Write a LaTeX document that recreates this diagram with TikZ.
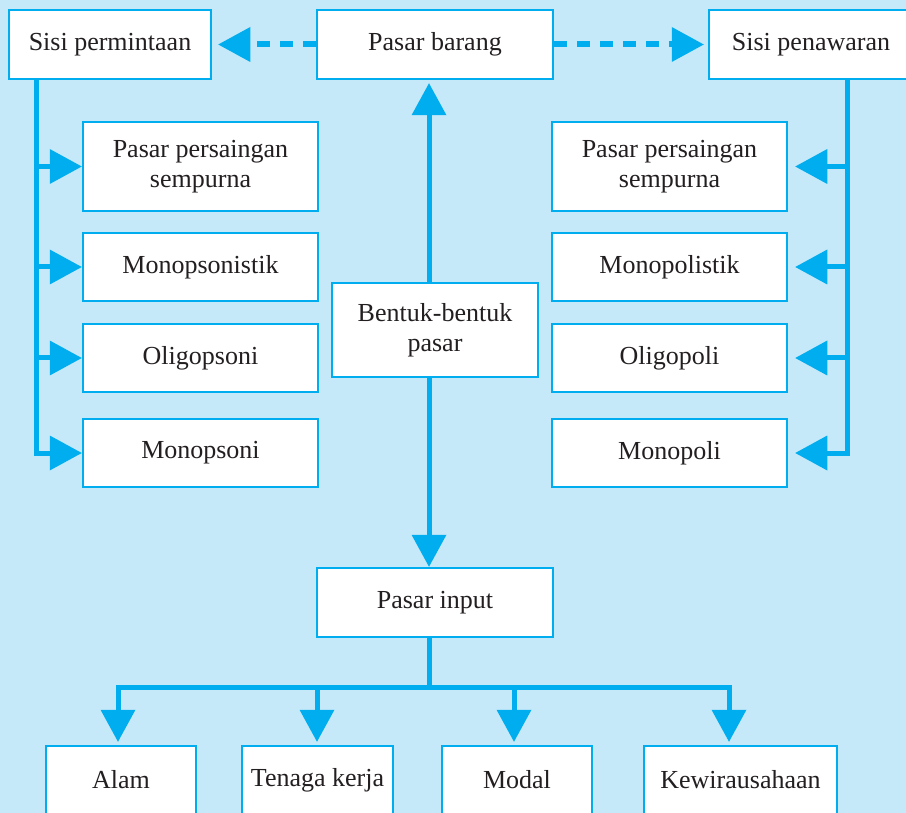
\documentclass[tikz,border=0pt]{standalone}
\usepackage{fontspec}
\setmainfont{Liberation Serif}
\usetikzlibrary{arrows.meta}
\definecolor{bgc}{HTML}{C6E9F9}
\definecolor{cy}{HTML}{00AEEF}
\definecolor{txt}{HTML}{231F20}
\pgfdeclarelayer{bgl}\pgfdeclarelayer{lns}\pgfsetlayers{bgl,lns,main}
\begin{document}
\begin{tikzpicture}[x=1pt,y=-1pt,
 box/.style={draw=cy,line width=2.5pt,fill=white,text=txt,inner sep=0pt,align=center,font=\fontsize{26}{30}\selectfont},
 rail/.style={draw=cy,line width=5pt,line cap=rect},
 tipstyle/.style={-{Triangle[length=32pt,width=35pt,line width=0pt]}},
 arr/.style={draw=cy,line width=5pt,tipstyle},
 darr/.style={draw=cy,line width=6pt,dash pattern=on 13pt off 10pt,tipstyle}]
\begin{pgfonlayer}{bgl}
\fill[bgc] (0,0) rectangle (906,813);
\end{pgfonlayer}
\useasboundingbox (0,0) rectangle (906,813);
% top row
\node[box,minimum width=202pt,minimum height=69pt] (spm) at (110,44.5) {Sisi permintaan};
\node[box,minimum width=236pt,minimum height=69pt] (pb) at (435,44.5) {Pasar barang};
\node[box,minimum width=204pt,minimum height=69pt] (spn) at (811,44.5) {Sisi penawaran};
% left column
\node[box,minimum width=235pt,minimum height=89pt] (L1) at (200.5,166.5) {Pasar persaingan\\sempurna};
\node[box,minimum width=235pt,minimum height=68pt] (L2) at (200.5,267) {Monopsonistik};
\node[box,minimum width=235pt,minimum height=68pt] (L3) at (200.5,358) {Oligopsoni};
\node[box,minimum width=235pt,minimum height=68pt] (L4) at (200.5,453) {Monopsoni};
% right column
\node[box,minimum width=235pt,minimum height=89pt] (R1) at (669.5,166.5) {Pasar persaingan\\sempurna};
\node[box,minimum width=235pt,minimum height=68pt] (R2) at (669.5,267) {Monopolistik};
\node[box,minimum width=235pt,minimum height=68pt] (R3) at (669.5,358) {Oligopoli};
\node[box,minimum width=235pt,minimum height=68pt] (R4) at (669.5,453) {Monopoli};
% centre
\node[box,minimum width=206pt,minimum height=94pt] (bp) at (435,330) {Bentuk-bentuk\\pasar};
\node[box,minimum width=236pt,minimum height=69pt] (pi) at (435,602.5) {Pasar input};
% bottom
\node[box,minimum width=150pt,minimum height=68pt] (A) at (121,780) {Alam};
\node[box,minimum width=151pt,minimum height=68pt] (T) at (317.5,780) {Tenaga kerja};
\node[box,minimum width=150pt,minimum height=68pt] (M) at (517,780) {Modal};
\node[box,minimum width=193pt,minimum height=68pt] (K) at (740.5,780) {Kewirausahaan};
% helper coordinates
\coordinate (lx) at (36,0);
\coordinate (rx) at (847,0);
\coordinate (cx) at (429,0);
\coordinate (hy) at (0,687);
\coordinate (b1) at (118,687);
\coordinate (b2) at (317,687);
\coordinate (b3) at (514,687);
\coordinate (b4) at (729,687);
\begin{pgfonlayer}{lns}
\draw[rail] (spm.south -| lx) -- (L4.west -| lx);
\foreach \n in {L1,L2,L3,L4}{\draw[arr] (\n.west -| lx) -- (\n.west);}
\draw[rail] (spn.south -| rx) -- (R4.east -| rx);
\foreach \n in {R1,R2,R3,R4}{\draw[arr,shorten >=7pt] (\n.east -| rx) -- (\n.east);}
\draw[arr,shorten >=3pt] (bp.north -| cx) -- (pb.south -| cx);
\draw[arr] (bp.south -| cx) -- (pi.north -| cx);
\draw[rail] (pi.south -| cx) -- (hy -| cx);
\draw[rail] (b1) -- (b4);
\draw[arr,shorten >=3pt] (b1) -- (A.north -| b1);
\draw[arr,shorten >=3pt] (b2) -- (T.north -| b2);
\draw[arr,shorten >=3pt] (b3) -- (M.north -| b3);
\draw[arr,shorten >=3pt] (b4) -- (K.north -| b4);
\draw[darr,shorten >=6pt] (pb.west) -- (spm.east);
\draw[darr,shorten >=4pt] (pb.east) -- (spn.west);
\end{pgfonlayer}
\end{tikzpicture}
\end{document}
